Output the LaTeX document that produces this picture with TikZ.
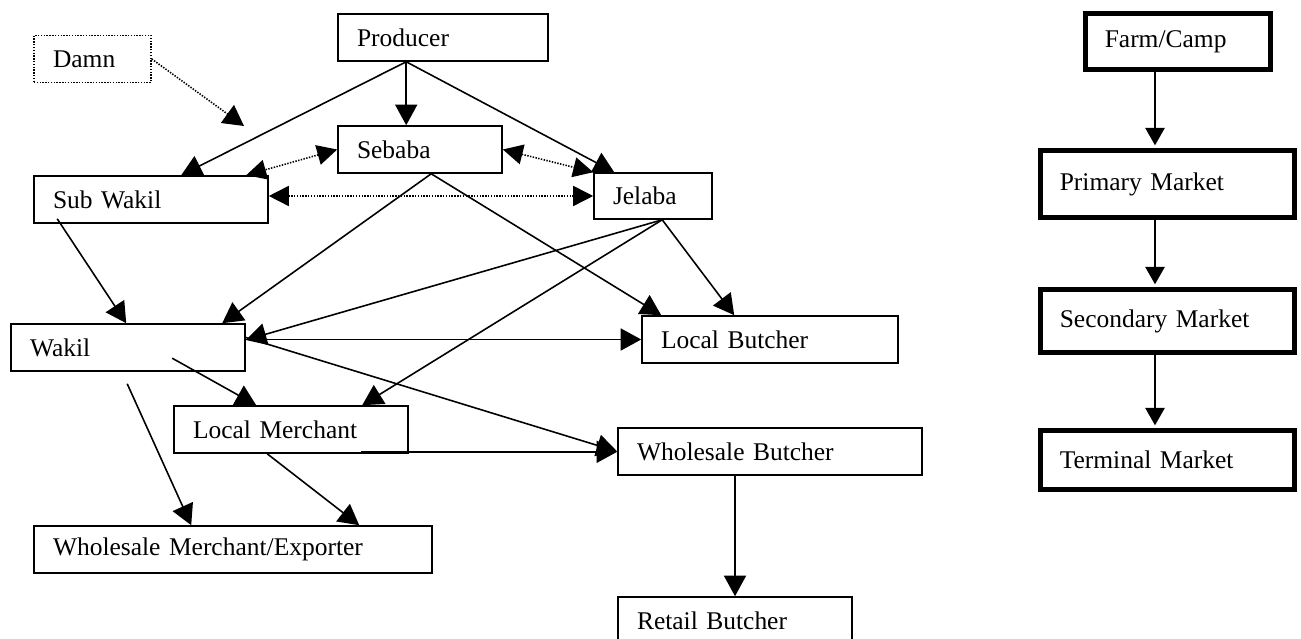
\documentclass[tikz,border=0pt]{standalone}
\usepackage{fontspec}
\setmainfont{Liberation Serif}
\usetikzlibrary{arrows.meta, calc}

\begin{document}
\begin{tikzpicture}[every node/.style={font=\fontsize{14.5pt}{17pt}\selectfont, align=left, inner xsep=0.38cm},
  box/.style={draw, line width=0.9pt, minimum height=0.94cm},
  bigbox/.style={draw, line width=3.1pt},
  arr/.style={-{Triangle[length=0.41cm, width=0.44cm]}, line width=0.9pt},
  dotarr/.style={{Triangle[length=0.4cm, width=0.4cm]}-{Triangle[length=0.4cm, width=0.4cm]}, line width=0.9pt, dash pattern=on 0.8pt off 0.8pt},
  colarr/.style={-{Triangle[length=0.35cm, width=0.39cm]}, line width=0.9pt, shorten >=0.055cm}]
  \useasboundingbox (0,0) rectangle (26.02,12.76);

  % marketing channels
  \node[box, dash pattern=on 0.8pt off 0.8pt, text width=1.58cm] (damn) at (1.85,11.58) {Damn};
  \node[box, text width=3.44cm] (producer) at (8.86,12.01) {Producer};
  \node[box, text width=2.52cm] (sebaba) at (8.40,9.77) {Sebaba};
  \node[box, text width=3.92cm] (subwakil) at (3.02,8.77) {Sub Wakil};
  \node[box, text width=1.60cm, minimum height=0.92cm] (jelaba) at (13.06,8.84) {Jelaba};
  \node[box, text width=3.92cm] (wakil) at (2.56,5.81) {Wakil};
  \node[box, text width=3.92cm] (lmerchant) at (5.82,4.17) {Local Merchant};
  \node[box, text width=4.36cm] (lbutcher) at (15.40,5.97) {Local Butcher};
  \node[box, text width=5.32cm] (wbutcher) at (15.40,3.73) {Wholesale Butcher};
  \node[box, text width=7.20cm] (wmerchant) at (4.66,1.77) {Wholesale Merchant/Exporter};
  \node[box, text width=3.92cm] (rbutcher) at (14.70,0.35) {Retail Butcher};

  % market levels
  \node[bigbox, text width=2.93cm, minimum height=1.11cm] (farm) at (23.56,11.93) {Farm/Camp};
  \node[bigbox, text width=4.31cm, minimum height=1.33cm] (primary) at (23.35,9.08) {Primary Market};
  \node[bigbox, text width=4.31cm, minimum height=1.25cm] (secondary) at (23.35,6.34) {Secondary Market};
  \node[bigbox, text width=4.31cm, minimum height=1.17cm] (terminal) at (23.35,3.56) {Terminal Market};

  \coordinate (damnend) at (4.88,10.24);
  \coordinate (pbot) at ($(producer.south west)+(1.38,0)$);
  \coordinate (sbot) at ($(sebaba.south west)+(1.88,0)$);
  \coordinate (jbot) at ($(jelaba.south west)+(1.38,0)$);
  \coordinate (lmout) at ($(lmerchant.south west)+(3.76,0.04)$);
  \coordinate (col) at (23.10,0);

  \draw[arr, dash pattern=on 0.8pt off 0.8pt] (damn.east) -- (damnend);
  \draw[arr] (pbot) -- ($(subwakil.north west)+(2.96,0)$);
  \draw[arr] (pbot) -- (pbot |- sebaba.north);
  \draw[arr] (pbot) -- ($(jelaba.north west)+(0.42,0)$);
  \draw[dotarr] (sebaba.west) -- ($(subwakil.north west)+(4.26,0)$);
  \draw[dotarr] (sebaba.east) -- (jelaba.north west);
  \draw[dotarr] (subwakil.east |- jelaba.west) -- (jelaba.west);
  \draw[arr] (sbot) -- ($(wakil.north west)+(4.24,0)$);
  \draw[arr] (sbot) -- ($(lbutcher.north west)+(0.40,0)$);
  \draw[arr] (jbot) -- ($(wakil.east)+(0,0.15)$);
  \draw[arr] (jbot) -- ($(lmerchant.north west)+(3.78,0)$);
  \draw[arr] (jbot) -- ($(lbutcher.north west)+(1.86,0)$);
  \draw[arr] ($(subwakil.south west)+(0.48,0.1)$) -- ($(wakil.north west)+(2.32,0)$);
  \draw[arr] (wakil.east |- lbutcher.west) -- (lbutcher.west);
  \draw[arr] ($(wakil.north west)+(3.24,-0.7)$) -- ($(lmerchant.north west)+(1.66,0)$);
  \draw[arr] ($(wakil.east)+(0,0.2)$) -- (wbutcher.west);
  \draw[arr] ($(wakil.south west)+(2.34,-0.24)$) -- ($(wmerchant.north west)+(3.16,0)$);
  \draw[arr] (lmout) -- (lmout -| wbutcher.west);
  \draw[arr] ($(lmerchant.south west)+(1.88,0)$) -- ($(wmerchant.north west)+(6.52,0)$);
  \draw[arr] (rbutcher.north |- wbutcher.south) -- (rbutcher.north);

  \draw[colarr] (farm.south -| col) -- (primary.north -| col);
  \draw[colarr] (primary.south -| col) -- (secondary.north -| col);
  \draw[colarr] (secondary.south -| col) -- (terminal.north -| col);
\end{tikzpicture}
\end{document}
